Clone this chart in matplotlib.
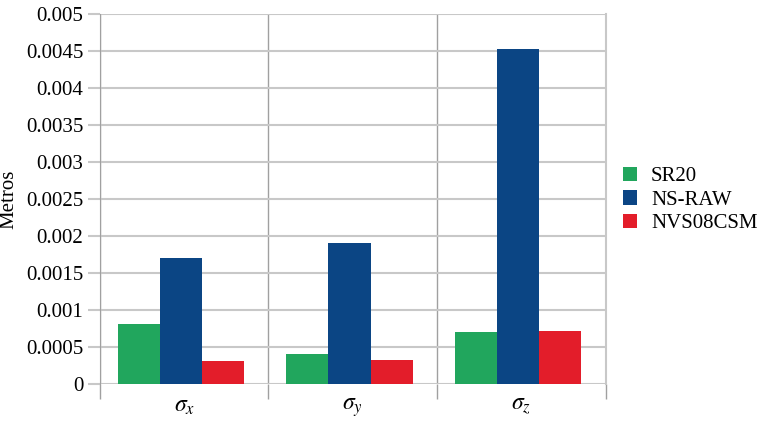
import matplotlib.pyplot as plt
import numpy as np

plt.rcParams['font.family'] = 'Liberation Serif'
plt.rcParams['mathtext.fontset'] = 'stix'

categories = [r'$\sigma_x$', r'$\sigma_y$', r'$\sigma_z$']
series_names = ['SR20', 'NS-RAW', 'NVS08CSM']
sr20 = [0.00081, 0.00040, 0.00070]
ns_raw = [0.00170, 0.00191, 0.00452]
nvs08csm = [0.00031, 0.00032, 0.00071]
colors = ['#21a65d', '#0b4584', '#e31d2a']
yticks = [0, 0.0005, 0.001, 0.0015, 0.002, 0.0025, 0.003, 0.0035, 0.004, 0.0045, 0.005]
ytick_labels = ['0', '0.0005', '0.001', '0.0015', '0.002', '0.0025', '0.003',
                '0.0035', '0.004', '0.0045', '0.005']

fig = plt.figure(figsize=(7.62, 4.21), dpi=100)
ax = fig.add_axes([0.131, 0.088, 0.664, 0.879])

x = np.arange(len(categories))
w = 0.25
for i, (vals, name) in enumerate(zip([sr20, ns_raw, nvs08csm], series_names)):
    ax.bar(x + (i - 1) * w - 0.02, vals, width=w, color=colors[i], label=name, zorder=3)

ax.set_xlim(-0.5, 2.5)
ax.set_ylim(0, 0.005)
ax.set_yticks(yticks)
ax.set_yticklabels(ytick_labels, fontsize=15)
ax.set_xticks(x)
ax.set_xticklabels(categories, fontsize=17)
ax.set_xticks([-0.5, 0.5, 1.5, 2.5], minor=True)

ax.grid(axis='y', color='#c8c8c8', linewidth=1.5, zorder=0)
ax.grid(axis='x', which='minor', color='#a0a0a0', linewidth=1, zorder=0)
ax.tick_params(axis='y', length=9, width=1.5, color='#c8c8c8', pad=3)
ax.tick_params(axis='x', which='major', length=0, pad=9)
ax.tick_params(axis='x', which='minor', length=11, width=1, color='#a0a0a0')

for s in ['top', 'bottom']:
    ax.spines[s].set_visible(False)
ax.spines['left'].set_color('#a0a0a0')
ax.spines['right'].set_color('#c8c8c8')
ax.spines['right'].set_linewidth(1.5)

ax.set_ylabel('Metros', fontsize=15, labelpad=5)

fig.legend(loc='center left', bbox_to_anchor=(0.818, 0.525), frameon=False,
           fontsize=15, handlelength=0.68, handleheight=0.68, handletextpad=0.65,
           labelspacing=0.2, borderpad=0, borderaxespad=0)

fig.savefig('out.png', dpi=100)
